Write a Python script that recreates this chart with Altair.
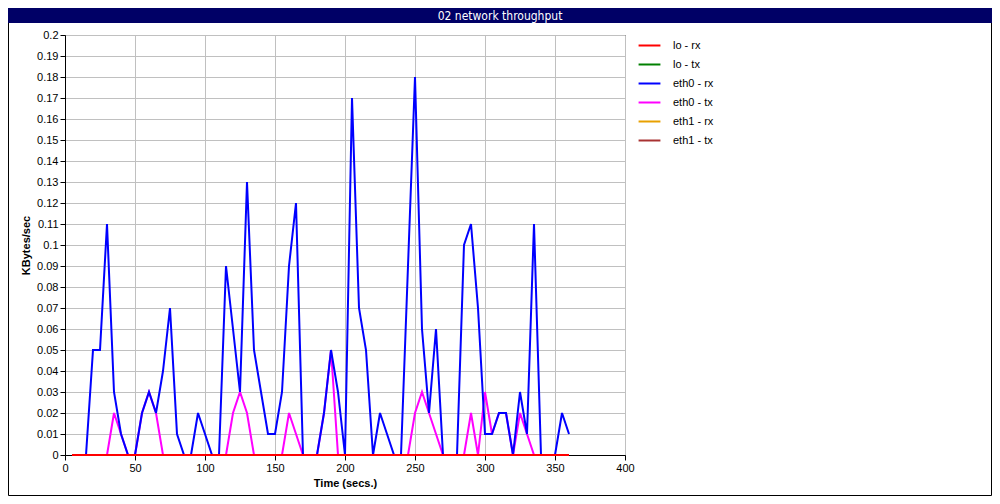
import altair as alt
import pandas as pd

title_text = "02 network throughput"
x_title = "Time (secs.)"
y_title = "KBytes/sec"

series_names = ["lo - rx", "lo - tx", "eth0 - rx", "eth0 - tx", "eth1 - rx", "eth1 - tx"]
series_colors = ["#ff0000", "#008000", "#0000ff", "#ff00ff", "#e8a000", "#a83232"]

time = [5, 10, 15, 20, 25, 30, 35, 40, 45, 50, 55, 60, 65, 70, 75, 80, 85, 90,
        95, 100, 105, 110, 115, 120, 125, 130, 135, 140, 145, 150, 155, 160, 165, 170,
        175, 180, 185, 190, 195, 200, 205, 210, 215, 220, 225, 230, 235, 240, 245, 250,
        255, 260, 265, 270, 275, 280, 285, 290, 295, 300, 305, 310, 315, 320, 325, 330,
        335, 340, 345, 350, 355, 360]

eth0_rx = [0, 0, 0, 0.05, 0.05, 0.11, 0.03, 0.01, 0, 0, 0.02, 0.03, 0.02, 0.04, 0.07, 0.01, 0, 0,
           0.02, 0.01, 0, 0, 0.09, 0.06, 0.03, 0.13, 0.05, 0.03, 0.01, 0.01, 0.03, 0.09, 0.12, 0,
           0, 0, 0.02, 0.05, 0.03, 0, 0.17, 0.07, 0.05, 0, 0.02, 0.01, 0, 0, 0.09, 0.18,
           0.06, 0.02, 0.06, 0, 0, 0, 0.10, 0.11, 0.07, 0.01, 0.01, 0.02, 0.02, 0, 0.03, 0.01,
           0.11, 0, 0, 0, 0.02, 0.01]

eth0_tx = [0, 0, 0, 0, 0, 0, 0.02, 0.01, 0, 0, 0.02, 0.03, 0.02, 0, 0, 0, 0, 0,
           0, 0, 0, 0, 0, 0.02, 0.03, 0.02, 0, 0, 0, 0, 0, 0.02, 0.01, 0,
           0, 0, 0.02, 0.05, 0, 0, 0, 0, 0, 0, 0, 0, 0, 0, 0, 0.02,
           0.03, 0.02, 0.01, 0, 0, 0, 0, 0.02, 0, 0.03, 0.01, 0.02, 0.02, 0, 0.02, 0.01,
           0, 0, 0, 0, 0, 0]

lo_rx = [0, 0, 0, 0, 0, 0, 0, 0, 0, 0, 0, 0, 0, 0, 0, 0, 0, 0,
         0, 0, 0, 0, 0, 0, 0, 0, 0, 0, 0, 0, 0, 0, 0, 0, 0, 0,
         0, 0, 0, 0, 0, 0, 0, 0, 0, 0, 0, 0, 0, 0, 0, 0, 0, 0,
         0, 0, 0, 0, 0, 0, 0, 0, 0, 0, 0, 0, 0, 0, 0, 0, 0, 0]
lo_tx = list(lo_rx)
eth1_rx = list(lo_rx)
eth1_tx = list(lo_rx)

x_ticks = [0, 50, 100, 150, 200, 250, 300, 350, 400]
y_ticks = [0, 0.01, 0.02, 0.03, 0.04, 0.05, 0.06, 0.07, 0.08, 0.09, 0.1,
           0.11, 0.12, 0.13, 0.14, 0.15, 0.16, 0.17, 0.18, 0.19, 0.2]

values_by_series = [lo_rx, lo_tx, eth0_rx, eth0_tx, eth1_rx, eth1_tx]
rows = []
for name, vals in zip(series_names, values_by_series):
    for t, v in zip(time, vals):
        rows.append({"time": t, "value": v, "series": name})
df = pd.DataFrame(rows)

FONT = "Liberation Sans"

x_enc = alt.X("time:Q", scale=alt.Scale(domain=[0, 400], nice=False),
              axis=alt.Axis(values=x_ticks, title=x_title, format="d",
                            titlePadding=4, labelFlush=False))
y_enc = alt.Y("value:Q", scale=alt.Scale(domain=[0, 0.2], nice=False),
              axis=alt.Axis(values=y_ticks, title=y_title, format="~g",
                            titlePadding=5, labelFlush=False))
color_enc = alt.Color("series:N",
                      scale=alt.Scale(domain=series_names, range=series_colors),
                      legend=alt.Legend(title=None, orient="none", legendX=574, legendY=0,
                                        symbolType="M-1.15,0H1.15", symbolSize=361,
                                        symbolStrokeWidth=2, labelFontSize=11,
                                        labelFont=FONT, labelOffset=13, rowPadding=3,
                                        padding=0, labelColor="black"))

line_layers = []
for name in reversed(series_names):
    line_layers.append(
        alt.Chart(df).transform_filter(alt.datum.series == name)
        .mark_line(strokeWidth=2)
        .encode(x=x_enc, y=y_enc, color=color_enc)
    )

deco = pd.DataFrame({"label": [title_text]})
title_bar = alt.Chart(deco).mark_rect(color="#000066").encode(
    x=alt.value(-57), x2=alt.value(927), y=alt.value(-27), y2=alt.value(-12))
title_label = alt.Chart(deco).mark_text(
    color="white", font="DejaVu Sans Condensed, Liberation Sans", fontSize=12, align="center",
    baseline="middle").encode(
    x=alt.value(435), y=alt.value(-19.5), text="label:N")
border = alt.Chart(deco).mark_rect(fill="transparent", stroke="black", strokeWidth=1).encode(
    x=alt.value(-56.5), x2=alt.value(926.5), y=alt.value(-26.5), y2=alt.value(460.5))

chart = alt.layer(border, title_bar, title_label, *line_layers).properties(
    width=560, height=420,
    autosize=alt.AutoSizeParams(type="none"),
    padding={"left": 57, "top": 27, "right": 367, "bottom": 41},
    background="white",
).configure_view(stroke="black", strokeWidth=1).configure_axis(
    labelFont=FONT, labelFontSize=11, labelColor="black",
    titleFont=FONT, titleFontSize=11, titleFontWeight="bold", titleColor="black",
    domainColor="black", tickColor="black", tickSize=5,
    gridColor="#c0c0c0", gridWidth=1, labelPadding=2,
)

chart.save("out.html", embed_options={"renderer": "svg", "actions": False})
